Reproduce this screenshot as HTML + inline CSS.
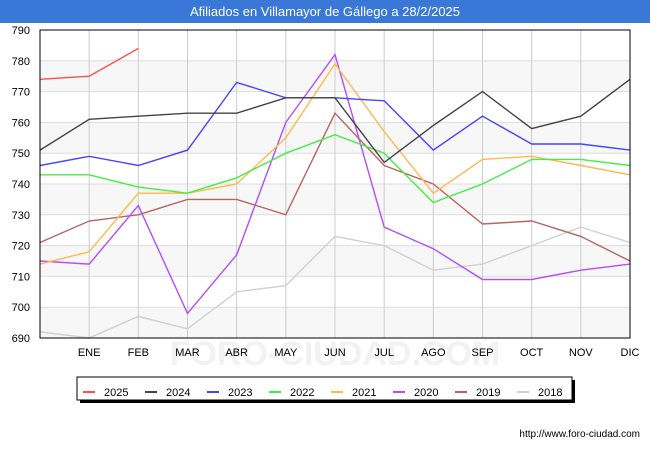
<!DOCTYPE html>
<html><head><meta charset="utf-8"><style>
body{margin:0;width:650px;height:450px;background:#fff;font-family:"Liberation Sans","DejaVu Sans",sans-serif;overflow:hidden}
</style></head><body>
<svg width="650" height="450" xmlns="http://www.w3.org/2000/svg">
<rect x="0" y="0" width="650" height="450" fill="#fff"/>
<rect x="0" y="0" width="650" height="23" fill="#3a78d8"/>
<text x="325" y="16" text-anchor="middle" font-size="13" fill="#fff">Afiliados en Villamayor de Gállego a 28/2/2025</text>
<text x="335" y="365" text-anchor="middle" font-size="34" fill="#f2f2f2" font-weight="bold">FORO-CIUDAD.COM</text>
<g id="plot"></g>
<text x="640" y="437" text-anchor="end" font-size="10" fill="#000">http://www.foro-ciudad.com</text>
</svg>
<script>
const months=["","ENE","FEB","MAR","ABR","MAY","JUN","JUL","AGO","SEP","OCT","NOV","DIC"];
const yTicks=[690,700,710,720,730,740,750,760,770,780,790];
const seriesNames=["2025","2024","2023","2022","2021","2020","2019","2018"];
const seriesColors=["#ff4d4d","#444444","#4444ff","#44ee44","#ffb84d","#b44dff","#b86464","#d0d0d0"];
const s2025=[774,775,784];
const s2024=[751,761,762,763,763,768,768,747,759,770,758,762,774];
const s2023=[746,749,746,751,773,768,768,767,751,762,753,753,751];
const s2022=[743,743,739,737,742,750,756,750,734,740,748,748,746];
const s2021=[714,718,737,737,740,755,779,757,737,748,749,746,743];
const s2020=[715,714,733,698,717,760,782,726,719,709,709,712,714];
const s2019=[721,728,730,735,735,730,763,746,740,727,728,723,715];
const s2018=[692,690,697,693,705,707,723,720,712,714,720,726,721];
const allSeries=[s2025,s2024,s2023,s2022,s2021,s2020,s2019,s2018];
const NS="http://www.w3.org/2000/svg";
const g=document.getElementById('plot');
const L=40,R=630,T=30,B=338,yMin=690,yMax=790;
const X=i=>L+(R-L)*i/(months.length-1);
const Y=v=>B-(B-T)*(v-yMin)/(yMax-yMin);
function mk(t,a){const e=document.createElementNS(NS,t);for(const k in a)e.setAttribute(k,a[k]);g.appendChild(e);return e;}
for(let i=0;i<yTicks.length-1;i++){
  if(i%2===0){const r=mk('rect',{x:L,y:Y(yTicks[i+1]),width:R-L,height:Y(yTicks[i])-Y(yTicks[i+1]),fill:'#f6f6f6','fill-opacity':0.85});
  
  }
}
yTicks.forEach(v=>{
  const l=mk('line',{x1:L,x2:R,y1:Y(v),y2:Y(v),stroke:'#dddddd','stroke-width':1});
  
  
  const t=mk('text',{x:L-10,y:Y(v)+4,'text-anchor':'end','font-size':11,fill:'#000'});
  t.textContent=v;
  
  
});
months.forEach((m,i)=>{
  if(i>0){const l=mk('line',{x1:X(i),x2:X(i),y1:T,y2:B,stroke:'#cccccc','stroke-width':1});
  
  }
  const t=mk('text',{x:X(i),y:B+18,'text-anchor':'middle','font-size':11,fill:'#000'});
  t.textContent=m;
  
  
});
for(let s=allSeries.length-1;s>=0;s--){
  const pts=allSeries[s].map((v,i)=>X(i).toFixed(1)+','+Y(v).toFixed(1)).join(' ');
  const p=mk('polyline',{points:pts,fill:'none',stroke:seriesColors[s],'stroke-width':1.4});
  
  
}
const ax=mk('rect',{x:L,y:T,width:R-L,height:B-T,fill:'none',stroke:'#000','stroke-width':1});


const lg=mk('rect',{x:80,y:380,width:495,height:23,fill:'#000'});


const lb=mk('rect',{x:77,y:377,width:495,height:23,fill:'#fff',stroke:'#000','stroke-width':1});


seriesNames.forEach((n,i)=>{
  const x0=83+i*62;
  const l=mk('line',{x1:x0,x2:x0+12,y1:392,y2:392,stroke:seriesColors[i],'stroke-width':2});
  
  
  const t=mk('text',{x:x0+21,y:396,'font-size':11,fill:'#000'});
  t.textContent=n;
  
  
});
</script>
</body></html>
